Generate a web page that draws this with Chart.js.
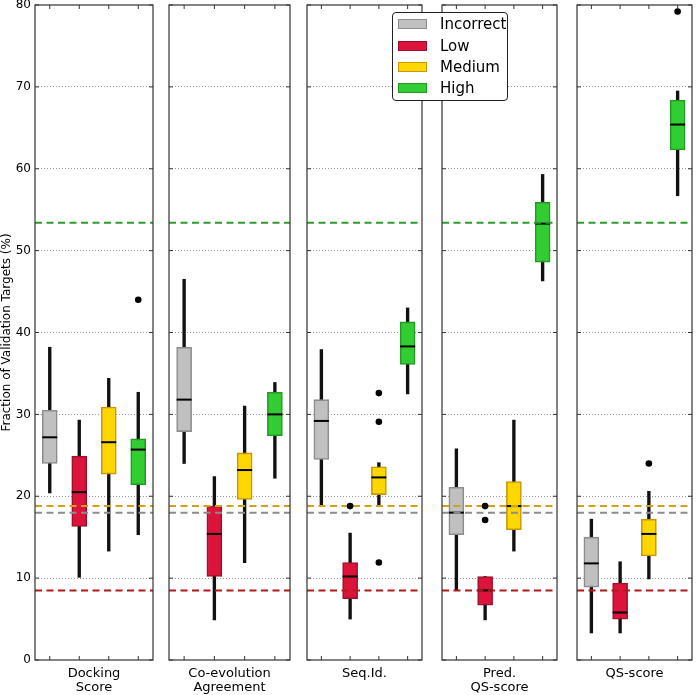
<!DOCTYPE html>
<html>
<head>
<meta charset="utf-8">
<script src="https://cdn.jsdelivr.net/npm/chart.js@4.4.1/dist/chart.umd.min.js"></script>
<style>
    body { margin: 0; background: #fff; }
    #wrap { position: relative; width: 697px; height: 695px; overflow: hidden; }
    #wrap canvas { position: absolute; top: 0; }
    #legend {
        position: absolute; left: 392px; top: 12px; width: 116px; height: 89px;
        box-sizing: border-box; border: 1px solid #222; border-radius: 4px;
        background: #fff; font-family: 'DejaVu Sans', sans-serif; font-size: 15px; z-index: 5;
    }
    .patch { position: absolute; left: 5px; width: 29px; height: 10px; box-sizing: border-box; border: 1.5px solid; }
    .lbl { position: absolute; left: 47px; line-height: 18px; color: #000; }
</style>
</head>
<body>
<div id="wrap">
    <div id="legend"></div>
</div>
<script>
// Catégories et panneaux
const levels = ['Incorrect', 'Low', 'Medium', 'High'];
const panelNames = [['Docking', 'Score'], ['Co-evolution', 'Agreement'], ['Seq.Id.'], ['Pred.', 'QS-score'], ['QS-score']];

// Résumés des boîtes : une ligne par panneau, une colonne par catégorie
const whiskLow = [
    [20.4, 10.1, 13.3, 15.3],
    [24.0, 4.9, 11.9, 22.2],
    [18.9, 5.0, 18.9, 32.5],
    [8.5, 4.9, 13.3, 46.3],
    [3.3, 3.3, 9.9, 56.7]
];
const boxLow = [
    [24.0, 16.3, 22.7, 21.4],
    [27.9, 10.2, 19.6, 27.4],
    [24.5, 7.5, 20.2, 36.1],
    [15.3, 6.7, 15.9, 48.6],
    [8.9, 5.0, 12.7, 62.3]
];
const medians = [
    [27.2, 20.5, 26.6, 25.7],
    [31.8, 15.4, 23.2, 30.0],
    [29.2, 10.2, 22.3, 38.3],
    [18.0, 8.5, 18.8, 53.3],
    [11.8, 5.8, 15.4, 65.4]
];
const boxHigh = [
    [30.5, 24.9, 30.9, 27.0],
    [38.2, 18.8, 25.3, 32.7],
    [31.8, 11.9, 23.6, 41.3],
    [21.1, 10.2, 21.8, 55.9],
    [15.0, 9.4, 17.2, 68.4]
];
const whiskHigh = [
    [38.2, 29.3, 34.4, 32.7],
    [46.5, 22.4, 31.0, 33.9],
    [37.9, 15.5, 24.1, 43.0],
    [25.8, 10.2, 29.3, 59.3],
    [17.2, 12.0, 20.6, 69.5]
];

// Points aberrants
const outlierPanel = [0, 2, 2, 2, 2, 3, 3, 4, 4];
const outlierLevel = [3, 1, 2, 2, 2, 1, 1, 2, 3];
const outlierValue = [44.0, 18.8, 32.6, 29.1, 11.9, 18.8, 17.1, 24.0, 79.2];

// Lignes de référence (pointillés) par catégorie
const baseline = [18.0, 8.5, 18.8, 53.4];

const yTicks = [0, 10, 20, 30, 40, 50, 60, 70, 80];

const fillColors = ['#C0C0C0', '#DC143C', '#FFD700', '#32CD32'];
const edgeColors = ['#8C8C8C', '#A0102C', '#C8960A', '#249A24'];
const refColors = ['#8C8C8C', '#B01A1A', '#D4A017', '#2E9B2E'];

const plotLefts = [35, 169, 304, 439, 574];
const plotWidth = 121;

Chart.defaults.font.family = "'DejaVu Sans', sans-serif";
Chart.defaults.color = '#000';

function decorPlugin(p) {
    return {
        id: 'decor' + p,
        beforeDatasetDraw(chart, args) {
            if (args.index !== 2) return;
            const ctx = chart.ctx;
            const a = chart.chartArea;
            const x = chart.scales.x, y = chart.scales.y;
            ctx.save();
            // médianes
            ctx.strokeStyle = '#000';
            ctx.lineWidth = 2;
            medians[p].forEach((m, i) => {
                const cx = x.getPixelForValue(i);
                const cy = y.getPixelForValue(m);
                ctx.beginPath();
                ctx.moveTo(cx - 7.5, cy);
                ctx.lineTo(cx + 7.5, cy);
                ctx.stroke();
            });
            // lignes de référence
            ctx.setLineDash([7, 4.5]);
            ctx.lineWidth = 2;
            baseline.forEach((v, i) => {
                const cy = y.getPixelForValue(v);
                ctx.strokeStyle = refColors[i];
                ctx.beginPath();
                ctx.moveTo(a.left, cy);
                ctx.lineTo(a.right, cy);
                ctx.stroke();
            });
            ctx.restore();
        },
        afterDraw(chart) {
            const ctx = chart.ctx;
            const a = chart.chartArea;
            const x = chart.scales.x, y = chart.scales.y;
            ctx.save();
            ctx.strokeStyle = '#333';
            ctx.lineWidth = 1.2;
            ctx.strokeRect(a.left, a.top, a.right - a.left, a.bottom - a.top);
            ctx.lineWidth = 1;
            const line = (x1, y1, x2, y2) => {
                ctx.beginPath(); ctx.moveTo(x1, y1); ctx.lineTo(x2, y2); ctx.stroke();
            };
            yTicks.forEach(v => {
                const py = y.getPixelForValue(v);
                line(a.left, py, a.left + 4, py);
                line(a.right - 4, py, a.right, py);
            });
            levels.forEach((_, i) => {
                const px = x.getPixelForValue(i);
                line(px, a.top, px, a.top + 4);
                line(px, a.bottom - 4, px, a.bottom);
            });
            ctx.restore();
        }
    };
}

function createPanel(p) {
    const canvas = document.createElement('canvas');
    const axisW = p === 0 ? 35 : 0;
    const padLeft = p === 0 ? 0 : 1;
    const left = plotLefts[p] - axisW - padLeft;
    canvas.width = axisW + padLeft + plotWidth + 1;
    canvas.height = 695;
    canvas.style.left = left + 'px';
    canvas.style.width = canvas.width + 'px';
    canvas.style.height = '695px';
    document.getElementById('wrap').appendChild(canvas);

    const outliers = [];
    outlierPanel.forEach((op, k) => {
        if (op === p) outliers.push({ x: levels[outlierLevel[k]], y: outlierValue[k] });
    });

    new Chart(canvas.getContext('2d'), {
        type: 'bar',
        data: {
            labels: levels,
            datasets: [
                {
                    label: 'whiskers',
                    data: levels.map((_, i) => [whiskLow[p][i], whiskHigh[p][i]]),
                    backgroundColor: '#111',
                    borderWidth: 0,
                    barThickness: 2.7,
                    grouped: false,
                    order: 3
                },
                {
                    label: 'boxes',
                    data: levels.map((_, i) => [boxLow[p][i], boxHigh[p][i]]),
                    backgroundColor: fillColors,
                    borderColor: edgeColors,
                    borderWidth: 1.6,
                    borderSkipped: false,
                    barThickness: 15,
                    grouped: false,
                    order: 2
                },
                {
                    type: 'line',
                    label: 'outliers',
                    data: outliers,
                    showLine: false,
                    pointRadius: 3.3,
                    pointBackgroundColor: '#000',
                    pointBorderColor: '#000',
                    pointBorderWidth: 0,
                    order: 1
                }
            ]
        },
        options: {
            responsive: false,
            animation: false,
            layout: { padding: { top: 5, bottom: 0, left: padLeft, right: 1 } },
            plugins: {
                legend: { display: false },
                tooltip: { enabled: false }
            },
            scales: {
                x: {
                    grid: { display: false },
                    border: { display: false },
                    ticks: { display: false },
                    title: {
                        display: true,
                        text: panelNames[p],
                        color: '#000',
                        font: { size: 13, lineHeight: 14 / 13 },
                        padding: { top: 0, bottom: panelNames[p].length === 1 ? 14 : 0 }
                    },
                    afterFit: s => { s.height = 35; }
                },
                y: {
                    min: 0,
                    max: 80,
                    ticks: {
                        display: p === 0,
                        stepSize: 10,
                        padding: 4,
                        color: '#000',
                        font: { size: 12 }
                    },
                    grid: {
                        color: c => (c.tick && c.tick.value > 0 && c.tick.value < 80) ? '#9a9a9a' : 'rgba(0,0,0,0)',
                        lineWidth: 1,
                        drawTicks: false
                    },
                    border: { display: false, dash: [1, 2] },
                    title: {
                        display: p === 0,
                        text: 'Fraction of Validation Targets (%)',
                        color: '#000',
                        font: { size: 12 },
                        padding: 0
                    },
                    afterFit: s => { s.width = axisW; s.paddingTop = 0; s.paddingBottom = 0; }
                }
            }
        },
        plugins: [decorPlugin(p)]
    });
}

panelNames.forEach((_, p) => createPanel(p));

// Légende HTML (elle chevauche deux panneaux)
const legend = document.getElementById('legend');
levels.forEach((name, i) => {
    const cy = 11.3 + i * 21.3;
    const patch = document.createElement('div');
    patch.className = 'patch';
    patch.style.top = (cy - 5) + 'px';
    patch.style.background = fillColors[i];
    patch.style.borderColor = edgeColors[i];
    legend.appendChild(patch);
    const lbl = document.createElement('div');
    lbl.className = 'lbl';
    lbl.style.top = (cy - 9) + 'px';
    lbl.textContent = name;
    legend.appendChild(lbl);
});
</script>
</body>
</html>
